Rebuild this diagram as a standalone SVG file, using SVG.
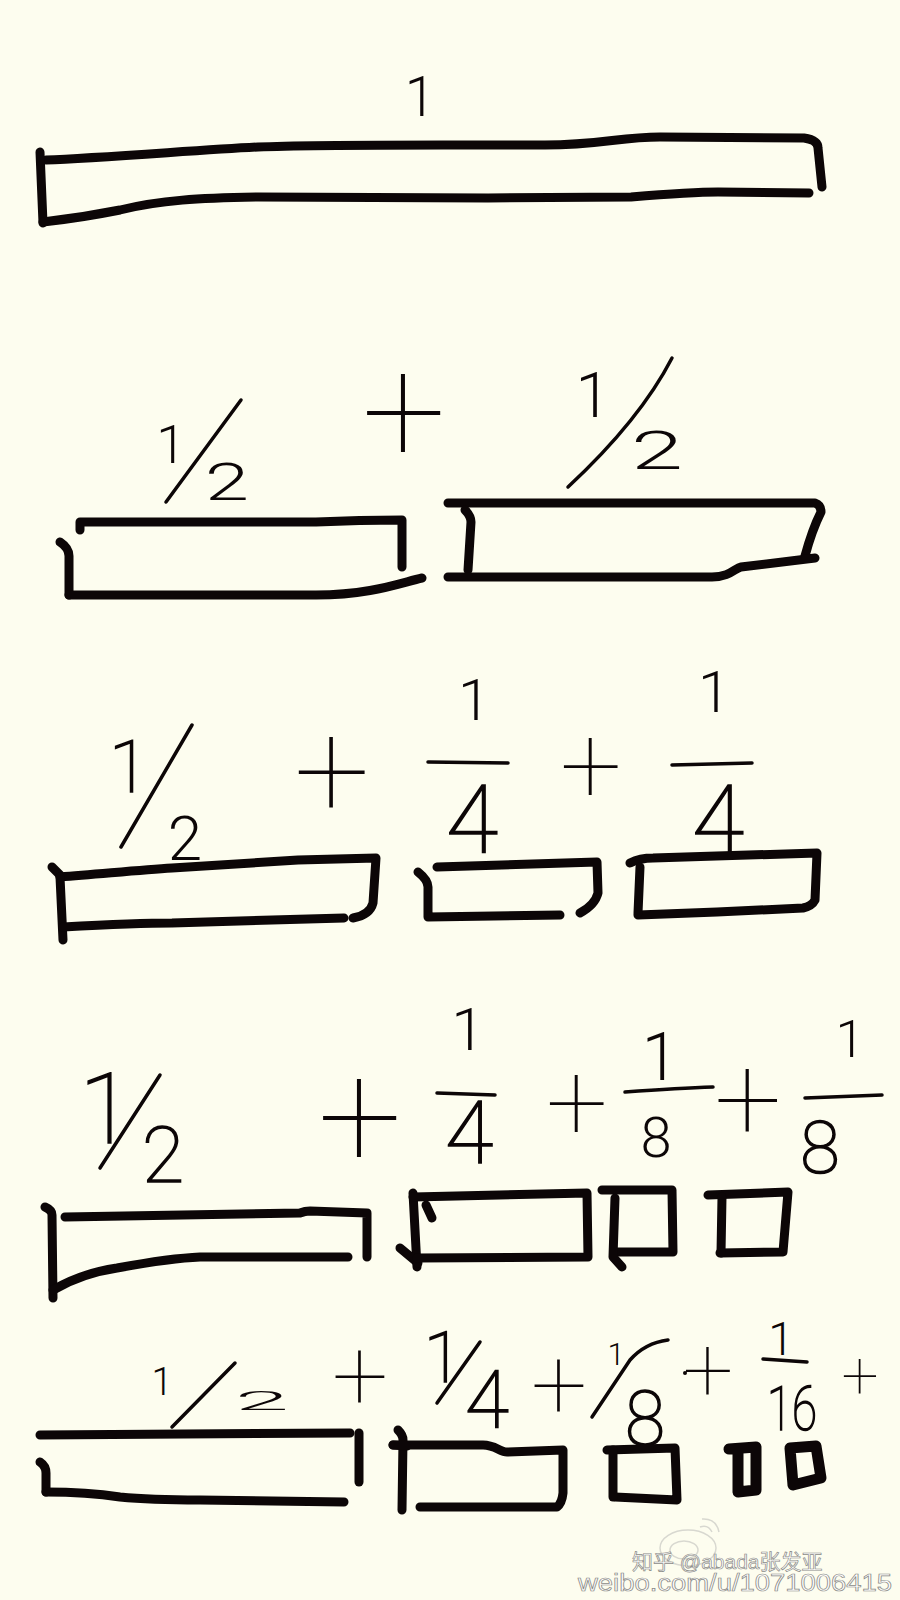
<svg xmlns="http://www.w3.org/2000/svg" width="900" height="1600" viewBox="0 0 900 1600">
<style>
.b{fill:none;stroke:#0c0607;stroke-width:9;stroke-linecap:round;stroke-linejoin:round}
.s{fill:none;stroke:#0c0607;stroke-width:11;stroke-linecap:round;stroke-linejoin:round}
.t{fill:none;stroke:#0c0607;stroke-width:3.5;stroke-linecap:round;stroke-linejoin:round}
.n{font-family:Roboto,"Liberation Sans",sans-serif;font-weight:300;fill:#0c0607;text-anchor:middle}
.m{font-family:Roboto,"Liberation Sans",sans-serif;font-weight:100;fill:#0c0607;stroke:#0c0607;stroke-width:1.6;text-anchor:middle}
.p{font-family:Roboto,"Liberation Sans",sans-serif;font-weight:100;fill:#0c0607;text-anchor:middle}
.w{font-family:"Liberation Sans","Noto Sans CJK SC",sans-serif;fill:#ffffff;stroke:#8a8a86;stroke-width:0.7}
</style>
<rect width="900" height="1600" fill="#fdfdef"/>

<g id="row1">
<text class="n" x="420" y="116" font-size="55">1</text>
<path class="b" d="M46,160 C100,158 200,150 258,147 S450,145 545,145 C600,145 620,137 660,137 L804,138 Q818,140 818,148 L822,187"/>
<path class="b" d="M40,152 L43,223"/>
<path class="b" d="M43,222 C70,219 100,214 120,210 C160,200 200,198 258,197 L488,198 C550,198 600,197 631,197 C680,193 700,192 718,192 L809,193"/>
</g>

<g id="row2">
<text class="n" x="171" y="463" font-size="53">1</text>
<path class="t" d="M241,400 L166,502"/>
<text class="n" x="227" y="500" font-size="52" textLength="44" lengthAdjust="spacingAndGlyphs">2</text>
<text class="p" x="404" y="463" font-size="150">+</text>
<text class="n" x="593" y="417" font-size="63">1</text>
<path class="t" d="M672,358 Q640,420 568,487"/>
<text class="n" x="657" y="469" font-size="54" textLength="52" lengthAdjust="spacingAndGlyphs">2</text>
<path class="b" d="M80,530 L80,522 L316,522 C360,520 380,520 402,520 L402,567"/>
<path class="b" d="M60,542 Q69,548 69,556 L69,595"/>
<path class="b" d="M69,595 L316,595 C370,595 400,583 422,578"/>
<path class="b" d="M448,503 L815,503 Q821,505 821,512 Q812,530 805,556"/>
<path class="b" d="M465,510 Q471,516 471,522 L468,570"/>
<path class="b" d="M448,577 L712,577 C730,577 735,568 741,567 L815,558"/>
</g>

<g id="row3">
<text class="m" x="129" y="792" font-size="73">1</text>
<path class="t" d="M192,725 L121,847"/>
<text class="n" x="185" y="860" font-size="62">2</text>
<text class="p" x="332" y="817" font-size="135">+</text>
<text class="n" x="474" y="720" font-size="58">1</text>
<path class="t" d="M428,762 L508,763"/>
<text class="m" x="472" y="852" font-size="95">4</text>
<text class="p" x="591" y="803" font-size="110">+</text>
<text class="n" x="714" y="712" font-size="58">1</text>
<path class="t" d="M672,765 L752,763"/>
<text class="m" x="718" y="852" font-size="95">4</text>
<path class="b" d="M52,867 L60,875"/>
<path class="b" d="M60,877 C100,874 140,870 172,868 L298,860 L376,858 L373,903 Q370,915 353,918"/>
<path class="b" d="M60,877 L63,940"/>
<path class="b" d="M63,927 C100,925 140,923 172,923 L344,918"/>
<path class="b" d="M418,872 Q428,880 428,887 L428,917 L560,915"/>
<path class="b" d="M437,867 L597,862 L598,893 Q595,905 580,913"/>
<path class="b" d="M630,863 Q640,858 653,858 L817,853 L815,900 Q812,906 803,908 L717,912 L638,915"/>
<path class="b" d="M640,867 L638,913"/>
</g>

<g id="row4">
<text class="m" x="106" y="1143" font-size="98">1</text>
<path class="t" d="M160,1075 L100,1168"/>
<text class="m" x="163" y="1182" font-size="77">2</text>
<text class="p" x="360" y="1168" font-size="150">+</text>
<text class="n" x="468" y="1050" font-size="60">1</text>
<path class="t" d="M437,1093 L495,1095"/>
<text class="m" x="469" y="1163" font-size="88">4</text>
<text class="p" x="577" y="1140" font-size="110">+</text>
<text class="n" x="660" y="1080" font-size="66">1</text>
<path class="t" d="M625,1092 Q680,1088 713,1087"/>
<text class="n" x="656" y="1157" font-size="56">8</text>
<text class="p" x="748" y="1140" font-size="120">+</text>
<text class="n" x="850" y="1057" font-size="52">1</text>
<path class="t" d="M805,1098 L882,1095"/>
<text class="m" x="820" y="1173" font-size="72">8</text>
<path class="b" d="M45,1207 Q52,1210 52,1215 L53,1298"/>
<path class="b" d="M65,1217 L300,1213 Q305,1211 310,1211 L367,1213 L367,1257"/>
<path class="b" d="M53,1290 C70,1280 90,1272 117,1268 C150,1262 175,1258 200,1257 L348,1257"/>
<path class="b" d="M413,1193 L417,1267"/>
<path class="b" d="M400,1248 L418,1263"/>
<path class="b" d="M426,1205 L432,1218"/>
<path class="b" d="M413,1197 L587,1193 L588,1257 L417,1258"/>
<path class="b" d="M602,1190 L672,1190 L673,1252 L615,1252"/>
<path class="b" d="M615,1198 L613,1257 L622,1267"/>
<path class="b" d="M708,1195 L788,1192 L783,1252 L720,1253"/>
<path class="b" d="M722,1197 L721,1253"/>
</g>

<g id="row5">
<text class="n" x="162" y="1395" font-size="38">1</text>
<path class="t" d="M235,1363 L172,1427"/>
<text class="n" x="262" y="1410" font-size="26" textLength="54" lengthAdjust="spacingAndGlyphs">2</text>
<text class="p" x="360" y="1410" font-size="100">+</text>
<text class="m" x="443" y="1382" font-size="70">1</text>
<path class="t" d="M480,1342 L437,1403"/>
<text class="m" x="487" y="1427" font-size="80">4</text>
<text class="p" x="559" y="1419" font-size="100">+</text>
<text class="n" x="616" y="1365" font-size="31">1</text>
<path class="t" d="M668,1340 Q645,1343 630,1360 L592,1417"/>
<text class="m" x="645" y="1445" font-size="76" textLength="40" lengthAdjust="spacingAndGlyphs">8</text>
<text class="p" x="708" y="1401" font-size="90">+</text>
<circle cx="685" cy="1373" r="2" fill="#0c0607"/>
<text class="n" x="781" y="1355" font-size="46">1</text>
<path class="t" d="M763,1359 L807,1362"/>
<text class="m" x="792" y="1430" font-size="62" textLength="50" lengthAdjust="spacingAndGlyphs">16</text>
<text class="p" x="860" y="1398" font-size="66">+</text>
<path class="b" d="M40,1435 L350,1433"/>
<path class="b" d="M359,1433 L359,1482"/>
<path class="b" d="M40,1462 Q46,1466 46,1473 L46,1492"/>
<path class="b" d="M46,1492 C80,1492 100,1494 120,1497 C150,1500 170,1500 200,1500 L344,1502"/>
<path class="b" d="M398,1430 Q403,1435 403,1440 L402,1510"/>
<path class="b" d="M393,1445 L407,1446"/>
<path class="b" d="M393,1445 L483,1445 C495,1445 500,1452 507,1452 L563,1450 L563,1493 Q562,1503 557,1507 L420,1507"/>
<path class="b" d="M607,1450 L675,1448 L677,1500 L615,1497"/>
<path class="b" d="M613,1450 L613,1497"/>
<path class="s" d="M729,1449 L756,1447 L756,1490 L738,1492 L738,1452"/>
<path class="s" d="M790,1448 L816,1446 L821,1478 L793,1485 Z"/>
</g>

<g id="watermark">
<g fill="none" stroke="#d8d8d0" stroke-width="1.5">
<ellipse cx="688" cy="1548" rx="28" ry="18"/>
<ellipse cx="684" cy="1550" rx="14" ry="9"/>
<path d="M700,1527 Q708,1524 712,1532"/>
<path d="M702,1519 Q716,1518 719,1532"/>
</g>
<text class="w" x="632" y="1569" font-size="21">知乎 @abada张发亚</text>
<text class="w" x="578" y="1591" font-size="23" textLength="314" lengthAdjust="spacingAndGlyphs">weibo.com/u/1071006415</text>
</g>
</svg>
